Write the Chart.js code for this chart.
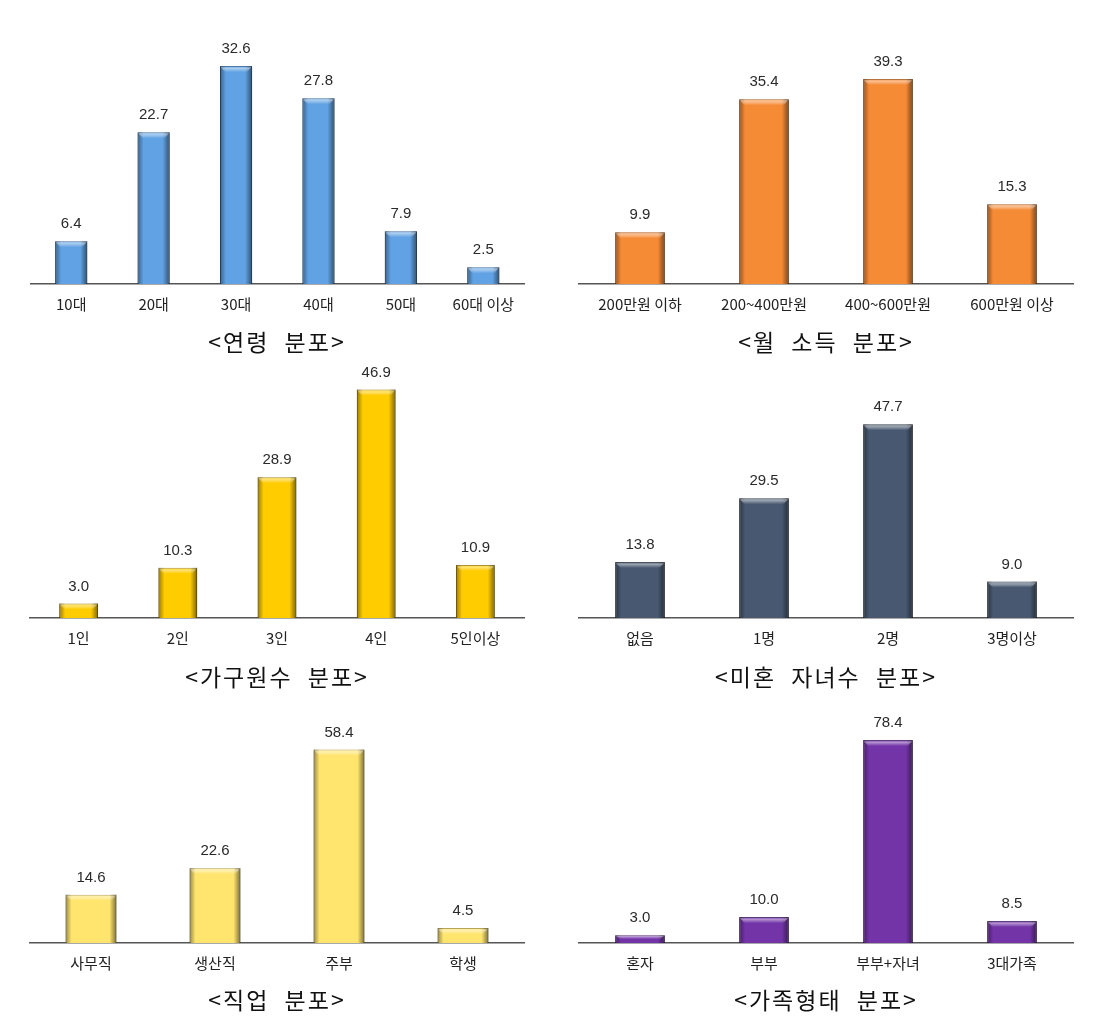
<!DOCTYPE html>
<html>
<head>
<meta charset="utf-8">
<script src="https://cdn.jsdelivr.net/npm/chart.js@4.4.1/dist/chart.umd.min.js"></script>
<style>
  body { margin: 0; background: #fff; }
  #wrap { position: relative; width: 1108px; height: 1016px; overflow: hidden; }
  canvas { position: absolute; }
  .ttl { position: absolute; width: 300px; margin-left: -150px; text-align: center;
         font-family: "Noto Sans CJK KR", sans-serif; font-size: 23px; color: #111;
         letter-spacing: 2px; word-spacing: 8px; line-height: 26px; }
</style>
</head>
<body>
<div id="wrap">
  <canvas id="c1" width="495" height="304" style="left:30px;top:20px"></canvas>
  <canvas id="c2" width="496" height="304" style="left:578px;top:20px"></canvas>
  <canvas id="c3" width="496" height="304" style="left:29px;top:354px"></canvas>
  <canvas id="c4" width="496" height="304" style="left:578px;top:354px"></canvas>
  <canvas id="c5" width="496" height="304" style="left:29px;top:679px"></canvas>
  <canvas id="c6" width="496" height="304" style="left:578px;top:679px"></canvas>
  <div class="ttl" style="left:277px;top:328px">&lt;연령 분포&gt;</div>
  <div class="ttl" style="left:826px;top:328px">&lt;월 소득 분포&gt;</div>
  <div class="ttl" style="left:277px;top:663px">&lt;가구원수 분포&gt;</div>
  <div class="ttl" style="left:826px;top:663px">&lt;미혼 자녀수 분포&gt;</div>
  <div class="ttl" style="left:277px;top:986px">&lt;직업 분포&gt;</div>
  <div class="ttl" style="left:826px;top:986px">&lt;가족형태 분포&gt;</div>
</div>
<script>
// data
var ageLabels = ['10대', '20대', '30대', '40대', '50대', '60대 이상'];
var ageValues = [6.4, 22.7, 32.6, 27.8, 7.9, 2.5];

var incomeLabels = ['200만원 이하', '200~400만원', '400~600만원', '600만원 이상'];
var incomeValues = [9.9, 35.4, 39.3, 15.3];

var householdLabels = ['1인', '2인', '3인', '4인', '5인이상'];
var householdValues = [3.0, 10.3, 28.9, 46.9, 10.9];

var childLabels = ['없음', '1명', '2명', '3명이상'];
var childValues = [13.8, 29.5, 47.7, 9.0];

var jobLabels = ['사무직', '생산직', '주부', '학생'];
var jobValues = [14.6, 22.6, 58.4, 4.5];

var familyLabels = ['혼자', '부부', '부부+자녀', '3대가족'];
var familyValues = [3.0, 10.0, 78.4, 8.5];

var fontKo = '"Noto Sans CJK KR", "Liberation Sans", sans-serif';

// bevel shading + value labels on top of bars
var barDeco = {
  id: 'barDeco',
  afterDatasetsDraw: function(chart) {
    var ctx = chart.ctx;
    var meta = chart.getDatasetMeta(0);
    var vals = chart.data.datasets[0].data;
    meta.data.forEach(function(bar, i) {
      var w = bar.width, l = bar.x - w / 2, r = bar.x + w / 2;
      var t = bar.y, b = bar.base, e = Math.min(6, (b - t) / 2);
      ctx.save();
      var g = ctx.createLinearGradient(l, 0, l + 6, 0);
      g.addColorStop(0, 'rgba(0,0,0,0.40)');
      g.addColorStop(1, 'rgba(0,0,0,0)');
      ctx.fillStyle = g;
      ctx.fillRect(l, t, 6, b - t);
      g = ctx.createLinearGradient(r - 7, 0, r, 0);
      g.addColorStop(0, 'rgba(0,0,0,0)');
      g.addColorStop(1, 'rgba(0,0,0,0.50)');
      ctx.fillStyle = g;
      ctx.fillRect(r - 7, t, 7, b - t);
      g = ctx.createLinearGradient(0, t, 0, t + e);
      g.addColorStop(0, 'rgba(255,255,255,0.10)');
      g.addColorStop(0.4, 'rgba(255,255,255,0.45)');
      g.addColorStop(1, 'rgba(255,255,255,0)');
      ctx.fillStyle = g;
      ctx.beginPath();
      ctx.moveTo(l, t); ctx.lineTo(r, t); ctx.lineTo(r - 5, t + e); ctx.lineTo(l + 5, t + e);
      ctx.closePath();
      ctx.fill();

      ctx.fillStyle = '#2a2a2a';
      ctx.font = '15px "Liberation Sans", Arial, sans-serif';
      ctx.textAlign = 'center';
      ctx.textBaseline = 'middle';
      ctx.fillText(vals[i].toFixed(1), bar.x, t - 17);
      ctx.restore();
    });
  }
};

function makeChart(id, labels, values, color, edge, yMax, barPct) {
  return new Chart(document.getElementById(id), {
    type: 'bar',
    data: {
      labels: labels,
      datasets: [{
        data: values,
        backgroundColor: color,
        borderColor: edge,
        borderWidth: 1,
        borderSkipped: 'bottom',
        categoryPercentage: 1,
        barPercentage: barPct
      }]
    },
    options: {
      responsive: false,
      animation: false,
      layout: { padding: 0 },
      plugins: { legend: { display: false }, tooltip: { enabled: false } },
      scales: {
        x: {
          grid: { display: false, drawTicks: false },
          border: { color: '#555', width: 1.5 },
          ticks: { color: '#222', padding: 11, font: { family: fontKo, size: 15 } }
        },
        y: { display: false, min: 0, max: yMax }
      }
    },
    plugins: [barDeco]
  });
}

makeChart('c1', ageLabels, ageValues, '#60a2e3', '#2f5f93', 39.5, 0.39);
makeChart('c2', incomeLabels, incomeValues, '#f68b36', '#a45414', 50.6, 0.4);
makeChart('c3', householdLabels, householdValues, '#ffcc00', '#9c7c00', 54.2, 0.39);
makeChart('c4', childLabels, childValues, '#475870', '#222c3a', 65, 0.4);
makeChart('c5', jobLabels, jobValues, '#ffe56e', '#a8923a', 79.7, 0.41);
makeChart('c6', familyLabels, familyValues, '#7334a8', '#3f1563', 102, 0.4);
</script>
</body>
</html>
